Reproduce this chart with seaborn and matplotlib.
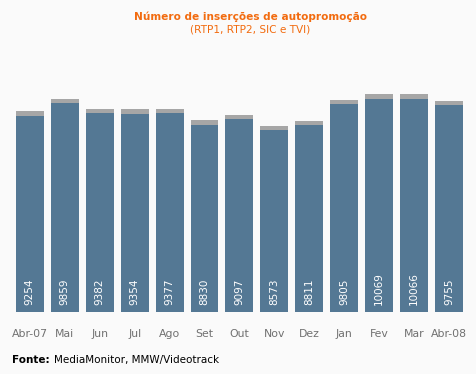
import matplotlib
matplotlib.use("Agg")
import matplotlib.pyplot as plt
import seaborn as sns
import pandas as pd

meses = ["Abr-07", "Mai", "Jun", "Jul", "Ago", "Set", "Out", "Nov", "Dez",
         "Jan", "Fev", "Mar", "Abr-08"]
insercoes = [9254, 9859, 9382, 9354, 9377, 8830, 9097, 8573, 8811,
             9805, 10069, 10066, 9755]

sns.set_style("white")
plt.rcParams['font.family'] = ['DejaVu Sans']

df = pd.DataFrame({"mes": meses, "n": insercoes})
df["topo"] = df["n"] + 210  # gray cap above each bar

bg = "#fafafa"
fig = plt.figure(figsize=(4.77, 3.74), dpi=100, facecolor=bg)
ax = fig.add_axes([0.026, 0.166, 0.952, 0.68])
ax.set_facecolor(bg)

sns.barplot(data=df, x="mes", y="topo", color="#a6a6a6", width=0.8,
            saturation=1, linewidth=0, ax=ax)
sns.barplot(data=df, x="mes", y="n", color="#547894", width=0.8,
            saturation=1, linewidth=0, ax=ax)

ax.set_xlim(-0.5, len(meses) - 0.5)
ax.set_ylim(0, 12000)
for s in ax.spines.values():
    s.set_visible(False)
ax.set_yticks([])
ax.set_xlabel("")
ax.set_ylabel("")
ax.tick_params(axis="x", length=0, pad=12, labelsize=7.8, labelcolor="#707070")

for i, v in enumerate(insercoes):
    ax.text(i, 330, str(v), rotation=90, ha="center", va="bottom",
            color="white", fontsize=7.5)

fig.text(0.525, 0.955, "Número de inserções de autopromoção", ha="center",
         va="center", color="#f26b0f", fontsize=7.6, fontweight="bold")
fig.text(0.525, 0.92, "(RTP1, RTP2, SIC e TVI)", ha="center", va="center",
         color="#f26b0f", fontsize=7.6)

fig.text(0.025, 0.037, "Fonte:", ha="left", va="center", color="black",
         fontsize=7.5, fontweight="bold")
fig.text(0.114, 0.037, "MediaMonitor, MMW/Videotrack", ha="left", va="center",
         color="black", fontsize=7.5)

fig.savefig("out.png", dpi=100, facecolor=bg)
